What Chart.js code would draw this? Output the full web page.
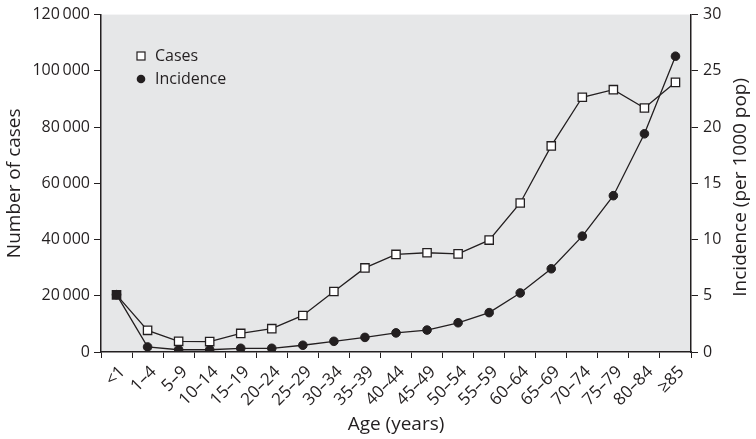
<!DOCTYPE html>
<html>
<head>
<meta charset="utf-8">
<script src="https://cdn.jsdelivr.net/npm/chart.js@4.4.1/dist/chart.umd.min.js"></script>
<style>
  html, body { margin: 0; padding: 0; background: #fff; }
  #wrap { width: 756px; height: 439px; }
</style>
</head>
<body>
<div id="wrap"><canvas id="grafico"></canvas></div>
<script>
// datos
const edades = ['<1', '1\u20134', '5\u20139', '10\u201314', '15\u201319', '20\u201324', '25\u201329', '30\u201334', '35\u201339',
  '40\u201344', '45\u201349', '50\u201354', '55\u201359', '60\u201364', '65\u201369', '70\u201374', '75\u201379', '80\u201384', '\u226585'];
const casos = [20300, 7700, 3800, 3700, 6600, 8300, 13000, 21500, 29900, 34700, 35300, 34900, 39800, 53000, 73300, 90600, 93300, 86800, 95900];
const incidencia = [5.1, 0.45, 0.2, 0.2, 0.33, 0.33, 0.6, 0.95, 1.3, 1.7, 1.95, 2.6, 3.5, 5.25, 7.4, 10.3, 13.9, 19.4, 26.3];
const ticksCasos = [0, 20000, 40000, 60000, 80000, 100000, 120000];

const fuente = "'Open Sans', 'Noto Sans', sans-serif";
const tinta = '#231f20';

function miles(v) {
  return v === 0 ? '0' : String(v).replace(/\B(?=(\d{3})+(?!\d))/g, '\u2009');
}

// fondo gris del area, leyenda dentro y titulo derecho (de abajo hacia arriba)
const fondoPlugin = {
  id: 'fondo',
  beforeDraw(chart) {
    const a = chart.chartArea;
    const ctx = chart.ctx;
    ctx.save();
    ctx.fillStyle = '#e6e7e8';
    ctx.fillRect(a.left, a.top, a.right - a.left, a.bottom - a.top);
    ctx.restore();
  },
  afterDraw(chart) {
    const a = chart.chartArea;
    const ctx = chart.ctx;
    ctx.save();
    ctx.font = '16px ' + fuente;
    ctx.textBaseline = 'middle';
    ctx.strokeStyle = tinta;
    ctx.lineWidth = 1.2;
    // Cases
    ctx.fillStyle = '#fff';
    ctx.fillRect(137, 52, 8, 8);
    ctx.strokeRect(137, 52, 8, 8);
    ctx.fillStyle = tinta;
    ctx.fillText('Cases', 155, 56);
    // Incidence
    ctx.beginPath();
    ctx.arc(141, 79, 4.3, 0, Math.PI * 2);
    ctx.fill();
    ctx.fillText('Incidence', 155, 79);
    // titulo eje derecho
    ctx.translate(741, (a.top + a.bottom) / 2 + 4);
    ctx.rotate(-Math.PI / 2);
    ctx.textAlign = 'center';
    ctx.font = '19px ' + fuente;
    ctx.fillText('Incidence (per 1000 pop)', 0, 0);
    ctx.restore();
  }
};

const ctxGrafico = document.getElementById('grafico');

let graficoEdad = new Chart(ctxGrafico, {
  type: 'line',
  data: {
    labels: edades,
    datasets: [{
      label: 'Incidence',
      data: incidencia,
      yAxisID: 'y1',
      borderColor: tinta,
      borderWidth: 1.3,
      pointStyle: 'circle',
      pointRadius: 4.3,
      pointBackgroundColor: tinta,
      pointBorderColor: tinta,
      pointBorderWidth: 1,
      order: 2
    }, {
      label: 'Cases',
      data: casos,
      yAxisID: 'y',
      borderColor: tinta,
      borderWidth: 1.3,
      pointStyle: 'rect',
      pointRadius: 5.9,
      pointBackgroundColor: c => c.dataIndex === 0 ? tinta : '#fff',
      pointBorderColor: tinta,
      pointBorderWidth: 1.3,
      order: 1
    }]
  },
  options: {
    responsive: true,
    maintainAspectRatio: false,
    animation: false,
    layout: { padding: { top: 13, bottom: 0, left: 0, right: 0 } },
    plugins: { legend: { display: false }, tooltip: { enabled: false } },
    scales: {
      x: {
        offset: true,
        grid: { offset: true, drawOnChartArea: false, drawTicks: true, tickLength: 6, color: tinta, lineWidth: 1 },
        border: { display: true, color: tinta, width: 1.5 },
        ticks: { color: tinta, font: { family: fuente, size: 17 }, minRotation: 45, maxRotation: 45, autoSkip: false, padding: 4, labelOffset: 6 },
        title: { display: true, text: 'Age (years)', color: tinta, font: { family: fuente, size: 19 }, padding: { top: 0, bottom: 3 } },
        afterFit(s) { s.height = 87; }
      },
      y: {
        position: 'left',
        min: 0, max: 120000,
        afterBuildTicks(s) { s.ticks = ticksCasos.map(v => ({ value: v })); },
        grid: { drawOnChartArea: false, drawTicks: true, tickLength: 7, color: tinta },
        border: { display: true, color: tinta, width: 1.5 },
        ticks: { color: tinta, font: { family: fuente, size: 16 }, padding: 4, callback: v => miles(v) },
        title: { display: true, text: 'Number of cases', color: tinta, font: { family: fuente, size: 19 }, padding: { top: 3, bottom: 0 } },
        afterFit(s) { s.width = 101; }
      },
      y1: {
        position: 'right',
        min: 0, max: 30,
        grid: { drawOnChartArea: false, drawTicks: true, tickLength: 7, color: tinta },
        border: { display: true, color: tinta, width: 1.5 },
        ticks: { stepSize: 5, color: tinta, font: { family: fuente, size: 16 }, padding: 5 },
        afterFit(s) { s.width = 65; }
      }
    }
  },
  plugins: [fondoPlugin]
});
</script>
</body>
</html>
